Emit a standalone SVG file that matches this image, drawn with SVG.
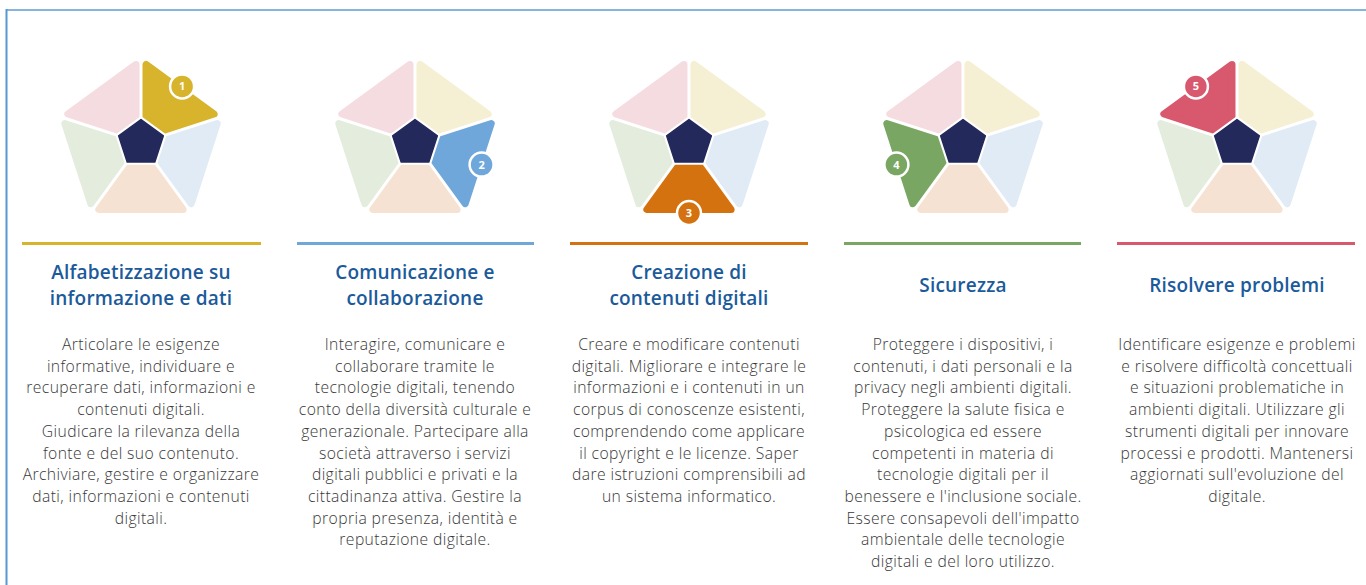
<svg xmlns="http://www.w3.org/2000/svg" xmlns:xlink="http://www.w3.org/1999/xlink" width="1366" height="585" viewBox="0 0 1366 585">
<style>
.seg{fill:currentColor;stroke:currentColor;stroke-width:7;stroke-linejoin:round}
.core{fill:#23295b;stroke:#23295b;stroke-width:1.5;stroke-linejoin:round}
.halo{fill:#ffffff}
.badge{stroke:#ffffff;stroke-width:2.5}
.num{font-family:"Open Sans","DejaVu Sans",sans-serif;font-weight:700;font-size:11px;fill:#ffffff;text-anchor:middle}
.title{font-family:"Open Sans","Lato",sans-serif;font-weight:600;font-size:19px;letter-spacing:0.2px;fill:#1b5a9b;text-anchor:middle}
.body{font-family:"Open Sans","Lato",sans-serif;font-weight:300;font-size:15.7px;letter-spacing:0.4px;fill:#383838;text-anchor:middle}
.rule{stroke-width:3}
</style>
<defs>
<path id="seg" d="M -42.13,66.5 L 42.13,66.5 L 6.53,17.5 L -6.53,17.5 Z"/>
<polygon id="halo" points="0,-27 25.68,-8.34 15.87,21.84 -15.87,21.84 -25.68,-8.34"/>
<polygon id="core" points="0,-23.5 22.35,-7.26 13.81,19.01 -13.81,19.01 -22.35,-7.26"/>
</defs>
<rect width="1366" height="585" fill="#ffffff"/>
<g id="frame" fill="none">
<line x1="6" y1="10" x2="1366" y2="10" stroke="#86b4dc" stroke-width="2"/>
<line x1="6.5" y1="9" x2="6.5" y2="585" stroke="#5698cf" stroke-width="2"/>
</g>

<g id="node1">
<g transform="translate(141,143)">
<use xlink:href="#seg" class="seg" color="#d7b42c" transform="rotate(-144)"/>
<use xlink:href="#seg" class="seg" color="#e0ebf5" transform="rotate(-72)"/>
<use xlink:href="#seg" class="seg" color="#f6e2d2" transform="rotate(0)"/>
<use xlink:href="#seg" class="seg" color="#e4ecdd" transform="rotate(72)"/>
<use xlink:href="#seg" class="seg" color="#f5dce1" transform="rotate(144)"/>
<use xlink:href="#halo" class="halo"/>
<use xlink:href="#core" class="core"/>
<circle cx="41.1" cy="-56.6" r="12" fill="#d7b42c" class="badge"/>
<text x="41.1" y="-52.6" class="num">1</text>
</g>
<line x1="22" y1="243.5" x2="261" y2="243.5" stroke="#d7b42c" class="rule"/>
<text class="title"><tspan x="141" y="279">Alfabetizzazione su</tspan><tspan x="141" y="305">informazione e dati</tspan></text>
<text class="body"><tspan x="141" y="350">Articolare le esigenze</tspan><tspan x="141" y="371.7">informative, individuare e</tspan><tspan x="141" y="393.4">recuperare dati, informazioni e</tspan><tspan x="141" y="415.1">contenuti digitali.</tspan><tspan x="141" y="436.8">Giudicare la rilevanza della</tspan><tspan x="141" y="458.5">fonte e del suo contenuto.</tspan><tspan x="141" y="480.2">Archiviare, gestire e organizzare</tspan><tspan x="141" y="501.9">dati, informazioni e contenuti</tspan><tspan x="141" y="523.6">digitali.</tspan></text>
</g>

<g id="node2">
<g transform="translate(415,143)">
<use xlink:href="#seg" class="seg" color="#f5efd3" transform="rotate(-144)"/>
<use xlink:href="#seg" class="seg" color="#70a7da" transform="rotate(-72)"/>
<use xlink:href="#seg" class="seg" color="#f6e2d2" transform="rotate(0)"/>
<use xlink:href="#seg" class="seg" color="#e4ecdd" transform="rotate(72)"/>
<use xlink:href="#seg" class="seg" color="#f5dce1" transform="rotate(144)"/>
<use xlink:href="#halo" class="halo"/>
<use xlink:href="#core" class="core"/>
<circle cx="66.6" cy="21.6" r="12" fill="#70a7da" class="badge"/>
<text x="66.6" y="25.6" class="num">2</text>
</g>
<line x1="297" y1="243.5" x2="534" y2="243.5" stroke="#70a7da" class="rule"/>
<text class="title"><tspan x="415" y="279">Comunicazione e</tspan><tspan x="415" y="305">collaborazione</tspan></text>
<text class="body"><tspan x="415" y="350">Interagire, comunicare e</tspan><tspan x="415" y="371.7">collaborare tramite le</tspan><tspan x="415" y="393.4">tecnologie digitali, tenendo</tspan><tspan x="415" y="415.1">conto della diversità culturale e</tspan><tspan x="415" y="436.8">generazionale. Partecipare alla</tspan><tspan x="415" y="458.5">società attraverso i servizi</tspan><tspan x="415" y="480.2">digitali pubblici e privati e la</tspan><tspan x="415" y="501.9">cittadinanza attiva. Gestire la</tspan><tspan x="415" y="523.6">propria presenza, identità e</tspan><tspan x="415" y="545.3">reputazione digitale.</tspan></text>
</g>

<g id="node3">
<g transform="translate(689,143)">
<use xlink:href="#seg" class="seg" color="#f5efd3" transform="rotate(-144)"/>
<use xlink:href="#seg" class="seg" color="#e0ebf5" transform="rotate(-72)"/>
<use xlink:href="#seg" class="seg" color="#d4720f" transform="rotate(0)"/>
<use xlink:href="#seg" class="seg" color="#e4ecdd" transform="rotate(72)"/>
<use xlink:href="#seg" class="seg" color="#f5dce1" transform="rotate(144)"/>
<use xlink:href="#halo" class="halo"/>
<use xlink:href="#core" class="core"/>
<circle cx="0" cy="70" r="12" fill="#d4720f" class="badge"/>
<text x="0" y="74" class="num">3</text>
</g>
<line x1="570" y1="243.5" x2="808" y2="243.5" stroke="#d4720f" class="rule"/>
<text class="title"><tspan x="689" y="279">Creazione di</tspan><tspan x="689" y="305">contenuti digitali</tspan></text>
<text class="body"><tspan x="689" y="350">Creare e modificare contenuti</tspan><tspan x="689" y="371.7">digitali. Migliorare e integrare le</tspan><tspan x="689" y="393.4">informazioni e i contenuti in un</tspan><tspan x="689" y="415.1">corpus di conoscenze esistenti,</tspan><tspan x="689" y="436.8">comprendendo come applicare</tspan><tspan x="689" y="458.5">il copyright e le licenze. Saper</tspan><tspan x="689" y="480.2">dare istruzioni comprensibili ad</tspan><tspan x="689" y="501.9">un sistema informatico.</tspan></text>
</g>

<g id="node4">
<g transform="translate(963,143)">
<use xlink:href="#seg" class="seg" color="#f5efd3" transform="rotate(-144)"/>
<use xlink:href="#seg" class="seg" color="#e0ebf5" transform="rotate(-72)"/>
<use xlink:href="#seg" class="seg" color="#f6e2d2" transform="rotate(0)"/>
<use xlink:href="#seg" class="seg" color="#7aa663" transform="rotate(72)"/>
<use xlink:href="#seg" class="seg" color="#f5dce1" transform="rotate(144)"/>
<use xlink:href="#halo" class="halo"/>
<use xlink:href="#core" class="core"/>
<circle cx="-66.6" cy="21.6" r="12" fill="#7aa663" class="badge"/>
<text x="-66.6" y="25.6" class="num">4</text>
</g>
<line x1="844" y1="243.5" x2="1081" y2="243.5" stroke="#7aa663" class="rule"/>
<text class="title" x="963" y="292">Sicurezza</text>
<text class="body"><tspan x="963" y="350">Proteggere i dispositivi, i</tspan><tspan x="963" y="371.7">contenuti, i dati personali e la</tspan><tspan x="963" y="393.4">privacy negli ambienti digitali.</tspan><tspan x="963" y="415.1">Proteggere la salute fisica e</tspan><tspan x="963" y="436.8">psicologica ed essere</tspan><tspan x="963" y="458.5">competenti in materia di</tspan><tspan x="963" y="480.2">tecnologie digitali per il</tspan><tspan x="963" y="501.9">benessere e l'inclusione sociale.</tspan><tspan x="963" y="523.6">Essere consapevoli dell'impatto</tspan><tspan x="963" y="545.3">ambientale delle tecnologie</tspan><tspan x="963" y="567">digitali e del loro utilizzo.</tspan></text>
</g>

<g id="node5">
<g transform="translate(1237,143)">
<use xlink:href="#seg" class="seg" color="#f5efd3" transform="rotate(-144)"/>
<use xlink:href="#seg" class="seg" color="#e0ebf5" transform="rotate(-72)"/>
<use xlink:href="#seg" class="seg" color="#f6e2d2" transform="rotate(0)"/>
<use xlink:href="#seg" class="seg" color="#e4ecdd" transform="rotate(72)"/>
<use xlink:href="#seg" class="seg" color="#d8586d" transform="rotate(144)"/>
<use xlink:href="#halo" class="halo"/>
<use xlink:href="#core" class="core"/>
<circle cx="-41.1" cy="-56.6" r="12" fill="#d8586d" class="badge"/>
<text x="-41.1" y="-52.6" class="num">5</text>
</g>
<line x1="1117" y1="243.5" x2="1355" y2="243.5" stroke="#d8586d" class="rule"/>
<text class="title" x="1237" y="292">Risolvere problemi</text>
<text class="body"><tspan x="1237" y="350">Identificare esigenze e problemi</tspan><tspan x="1237" y="371.7">e risolvere difficoltà concettuali</tspan><tspan x="1237" y="393.4">e situazioni problematiche in</tspan><tspan x="1237" y="415.1">ambienti digitali. Utilizzare gli</tspan><tspan x="1237" y="436.8">strumenti digitali per innovare</tspan><tspan x="1237" y="458.5">processi e prodotti. Mantenersi</tspan><tspan x="1237" y="480.2">aggiornati sull'evoluzione del</tspan><tspan x="1237" y="501.9">digitale.</tspan></text>
</g>
</svg>
